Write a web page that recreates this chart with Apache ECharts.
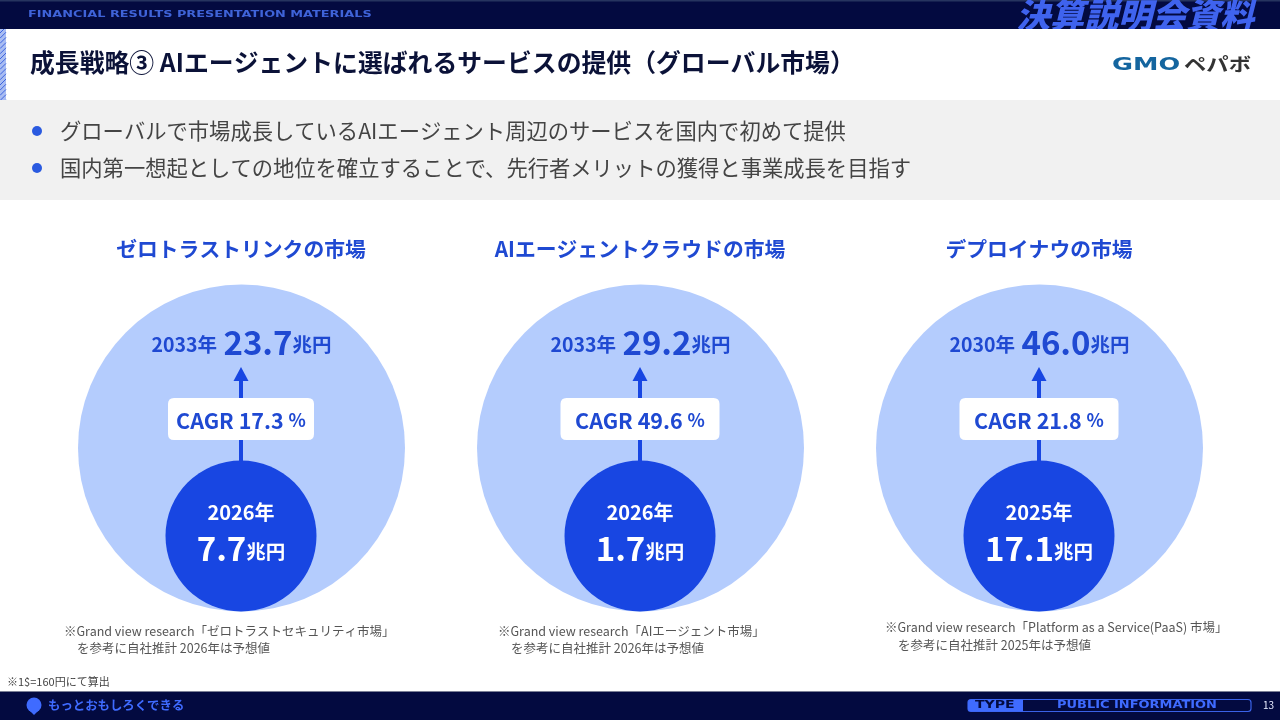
<!DOCTYPE html>
<html><head><meta charset="utf-8">
<style>html,body{margin:0;padding:0;background:#fff}#c{width:1280px;height:720px}</style>
<script src="https://cdn.jsdelivr.net/npm/echarts@6/dist/echarts.min.js"></script></head>
<body><div id="c"></div>
<script>
const markets = ['ゼロトラストリンクの市場','AIエージェントクラウドの市場','デプロイナウの市場'];
const startYears = ['2026年','2026年','2025年'];
const startValues = ['7.7','1.7','17.1'];
const endYears = ['2033年','2033年','2030年'];
const endValues = ['23.7','29.2','46.0'];
const cagr = ['17.3','49.6','21.8'];
const noteLine1 = ['※Grand view research「ゼロトラストセキュリティ市場」','※Grand view research「AIエージェント市場」','※Grand view research「Platform as a Service(PaaS) 市場」'];
const noteLine2 = ['を参考に自社推計 2026年は予想値','を参考に自社推計 2026年は予想値','を参考に自社推計 2025年は予想値'];
const pageTitle = '成長戦略③ AIエージェントに選ばれるサービスの提供（グローバル市場）';
const bullets = ['グローバルで市場成長しているAIエージェント周辺のサービスを国内で初めて提供','国内第一想起としての地位を確立することで、先行者メリットの獲得と事業成長を目指す'];

const F='"Noto Sans CJK JP","Noto Sans",sans-serif';
const NAVY='#030a40',TXT='#1f49d2',LIGHT='#b4ccfd',SMALL='#1846e2',ACC='#3f6bff';
const cx=[241,640,1039];
const noteX=[[64,77],[498,511],[885,898]], noteY=[[631,648],[631,648],[627,645]];
const boxW=[146,159,159];

const chart=echarts.init(document.getElementById('c'),null,{renderer:'canvas'});
const pts=(f)=>cx.map((x,i)=>f(x,i));
const txt=(x,y,text,s,extra)=>({type:'text',x,y,z:20,style:Object.assign({text,fontFamily:F,fontSize:s,fill:'#444',align:'left',verticalAlign:'middle'},extra||{})});
const boxPath=(w,h,r)=>`path://M${r} 0H${w-r}Q${w} 0 ${w} ${r}V${h-r}Q${w} ${h} ${w-r} ${h}H${r}Q0 ${h} 0 ${h-r}V${r}Q0 0 ${r} 0Z`;

const graphic=[
 {type:'rect',z:1,shape:{x:0,y:0,width:1280,height:720},style:{fill:'#fff'}},
 {type:'rect',z:2,shape:{x:0,y:0,width:1280,height:29},style:{fill:NAVY}},
 {type:'rect',z:2,shape:{x:0,y:0,width:1280,height:1.5},style:{fill:'#26345f'}},
 {type:'text',z:3,x:1016,y:15,style:{text:'決算説明会資料',fontFamily:F,fontWeight:900,fontStyle:'italic',fontSize:34,fill:'#3f63ee',verticalAlign:'middle'}},
 {type:'rect',z:4,shape:{x:0,y:29,width:1280,height:71},style:{fill:'#fff'}},
 {type:'rect',z:4,shape:{x:0,y:100,width:1280,height:100},style:{fill:'#f1f1f1'}},
 {type:'rect',z:4,shape:{x:0,y:29,width:6,height:71},style:{fill:'#a9bdf2'}},
 {type:'text',z:5,x:28,y:15,scaleX:1.354,style:{text:'FINANCIAL RESULTS PRESENTATION MATERIALS',fontFamily:'"DejaVu Sans"',fontWeight:'bold',fontSize:9.5,fill:'#3f63d8',verticalAlign:'middle'}},
 txt(30,62.5,pageTitle,24.85,{fontWeight:'bold',fill:'#0b1238'}),
 {type:'text',z:20,x:1112,y:65,scaleX:1.42,style:{text:'GMO',fontFamily:'"DejaVu Sans"',fontWeight:'bold',fontSize:18,fill:'#14659f',verticalAlign:'middle'}},
 {type:'text',z:20,x:1184,y:64,scaleX:1.24,style:{text:'ペパボ',fontFamily:F,fontWeight:'bold',fontSize:18,fill:'#333',verticalAlign:'middle'}},
 {type:'circle',z:20,shape:{cx:37,cy:131,r:5},style:{fill:'#2a5ae0'}},
 {type:'circle',z:20,shape:{cx:37,cy:168,r:5},style:{fill:'#2a5ae0'}},
 txt(60,131,bullets[0],21.3),
 txt(60,168,bullets[1],21.3),
 txt(7,682,'※1$=160円にて算出',11),
 {type:'rect',z:2,shape:{x:0,y:692,width:1280,height:28},style:{fill:NAVY}},
 {type:'rect',z:3,shape:{x:0,y:691,width:1280,height:1},style:{fill:'#7b8096'}},
 {type:'circle',z:5,shape:{cx:34,cy:705,r:7.5},style:{fill:ACC}},
 {type:'polygon',z:5,shape:{points:[[29,710],[39,710],[34,715]]},style:{fill:ACC}},
 txt(48,705.5,'もっとおもしろくできる',12.4,{fontWeight:'bold',fill:ACC}),
 {type:'rect',z:5,shape:{x:968,y:699.5,width:283,height:12,r:3},style:{fill:'none',stroke:'#3a62e8',lineWidth:1.2}},
 {type:'rect',z:5,shape:{x:968,y:699.5,width:55,height:12,r:[3,0,0,3]},style:{fill:'#3f6bff'}},
 {type:'text',z:6,x:975,y:705.5,scaleX:1.34,style:{text:'TYPE',fontFamily:'"DejaVu Sans"',fontWeight:'bold',fontSize:10.5,fill:NAVY,verticalAlign:'middle'}},
 {type:'text',z:6,x:1057,y:705.5,scaleX:1.296,style:{text:'PUBLIC INFORMATION',fontFamily:'"DejaVu Sans"',fontWeight:'bold',fontSize:10,fill:'#3f6bff',verticalAlign:'middle'}},
 txt(1263,705.5,'13',10,{fill:'#e8ecff'})
];
for(let i=0;i<3;i++){
  graphic.push(txt(noteX[i][0],noteY[i][0],noteLine1[i],12.5,{fill:'#555'}));
  graphic.push(txt(noteX[i][1],noteY[i][1],noteLine2[i],12.5,{fill:'#555'}));
}
for(let k=0;k<15;k++){
  graphic.push({type:'line',z:4,shape:{x1:0,y1:33+k*5.2,x2:6,y2:27+k*5.2},style:{stroke:'#3d64df',lineWidth:1}});
}
graphic.push({type:'rect',z:4,shape:{x:0,y:100,width:6,height:8},style:{fill:'#f1f1f1'}});
graphic.push({type:'rect',z:4,shape:{x:0,y:24,width:6,height:5},style:{fill:NAVY}});

const lab=(o)=>Object.assign({show:true,position:'inside',fontFamily:F,fontWeight:'bold',opacity:1},o);
const hidden={color:'transparent'};
const series=[
 {type:'scatter',name:'big',z:5,symbol:'circle',symbolSize:327,silent:true,itemStyle:{color:LIGHT,opacity:1},data:pts(x=>[x+0.5,448])},
 {type:'scatter',name:'small',z:8,symbol:'circle',symbolSize:151,silent:true,itemStyle:{color:SMALL,opacity:1},data:pts(x=>[x,536])},
 ...cx.map(x=>({type:'line',z:6,silent:true,symbol:'none',lineStyle:{color:SMALL,width:4},data:[[x,462],[x,376]]})),
 {type:'scatter',z:6,silent:true,symbol:'triangle',symbolSize:[15,14],itemStyle:{color:SMALL,opacity:1},data:pts(x=>[x,374])},
 {type:'scatter',z:7,silent:true,itemStyle:{color:'#fff',opacity:1},
  data:pts((x,i)=>({value:[x,419],symbol:boxPath(boxW[i],42,6),symbolSize:[boxW[i],42]}))},
 {type:'scatter',z:9,silent:true,symbolSize:1,itemStyle:hidden,
  data:pts((x,i)=>({value:[x,420.5],label:lab({formatter:'{a|CAGR '+cagr[i]+' }{b|%}',rich:{a:{fontSize:21.5,color:TXT,fontFamily:F,fontWeight:'bold'},b:{fontSize:18,color:TXT,fontFamily:F,fontWeight:'bold'}}})}))},
 {type:'scatter',z:9,silent:true,symbolSize:1,itemStyle:hidden,
  data:pts((x,i)=>({value:[x,249.5],label:lab({formatter:markets[i],fontSize:20.8,color:TXT})}))},
 {type:'scatter',z:9,silent:true,symbolSize:1,itemStyle:hidden,
  data:pts((x,i)=>({value:[x+0.5,342],label:lab({formatter:'{y|'+endYears[i]+' }{v|'+endValues[i]+'}{y|兆円}',rich:{y:{fontSize:19.5,color:TXT,fontFamily:F,fontWeight:'bold',padding:[6,0,0,0]},v:{fontSize:33,color:TXT,fontFamily:F,fontWeight:'bold',padding:[0,0,0,2]}}})}))},
 {type:'scatter',z:9,silent:true,symbolSize:1,itemStyle:hidden,
  data:pts((x,i)=>({value:[x,512],label:lab({formatter:startYears[i],fontSize:20,color:'#fff'})}))},
 {type:'scatter',z:9,silent:true,symbolSize:1,itemStyle:hidden,
  data:pts((x,i)=>({value:[x,548],label:lab({formatter:'{v|'+startValues[i]+'}{y|兆円}',rich:{y:{fontSize:19.5,color:'#fff',fontFamily:F,fontWeight:'bold',padding:[7,0,0,0]},v:{fontSize:33,color:'#fff',fontFamily:F,fontWeight:'bold'}}})}))}
];
chart.setOption({animation:false,
 grid:{left:0,right:0,top:0,bottom:0},
 xAxis:{type:'value',min:0,max:1280,show:false},
 yAxis:{type:'value',min:0,max:720,inverse:true,show:false},
 graphic:{elements:graphic},series});
</script></body></html>
